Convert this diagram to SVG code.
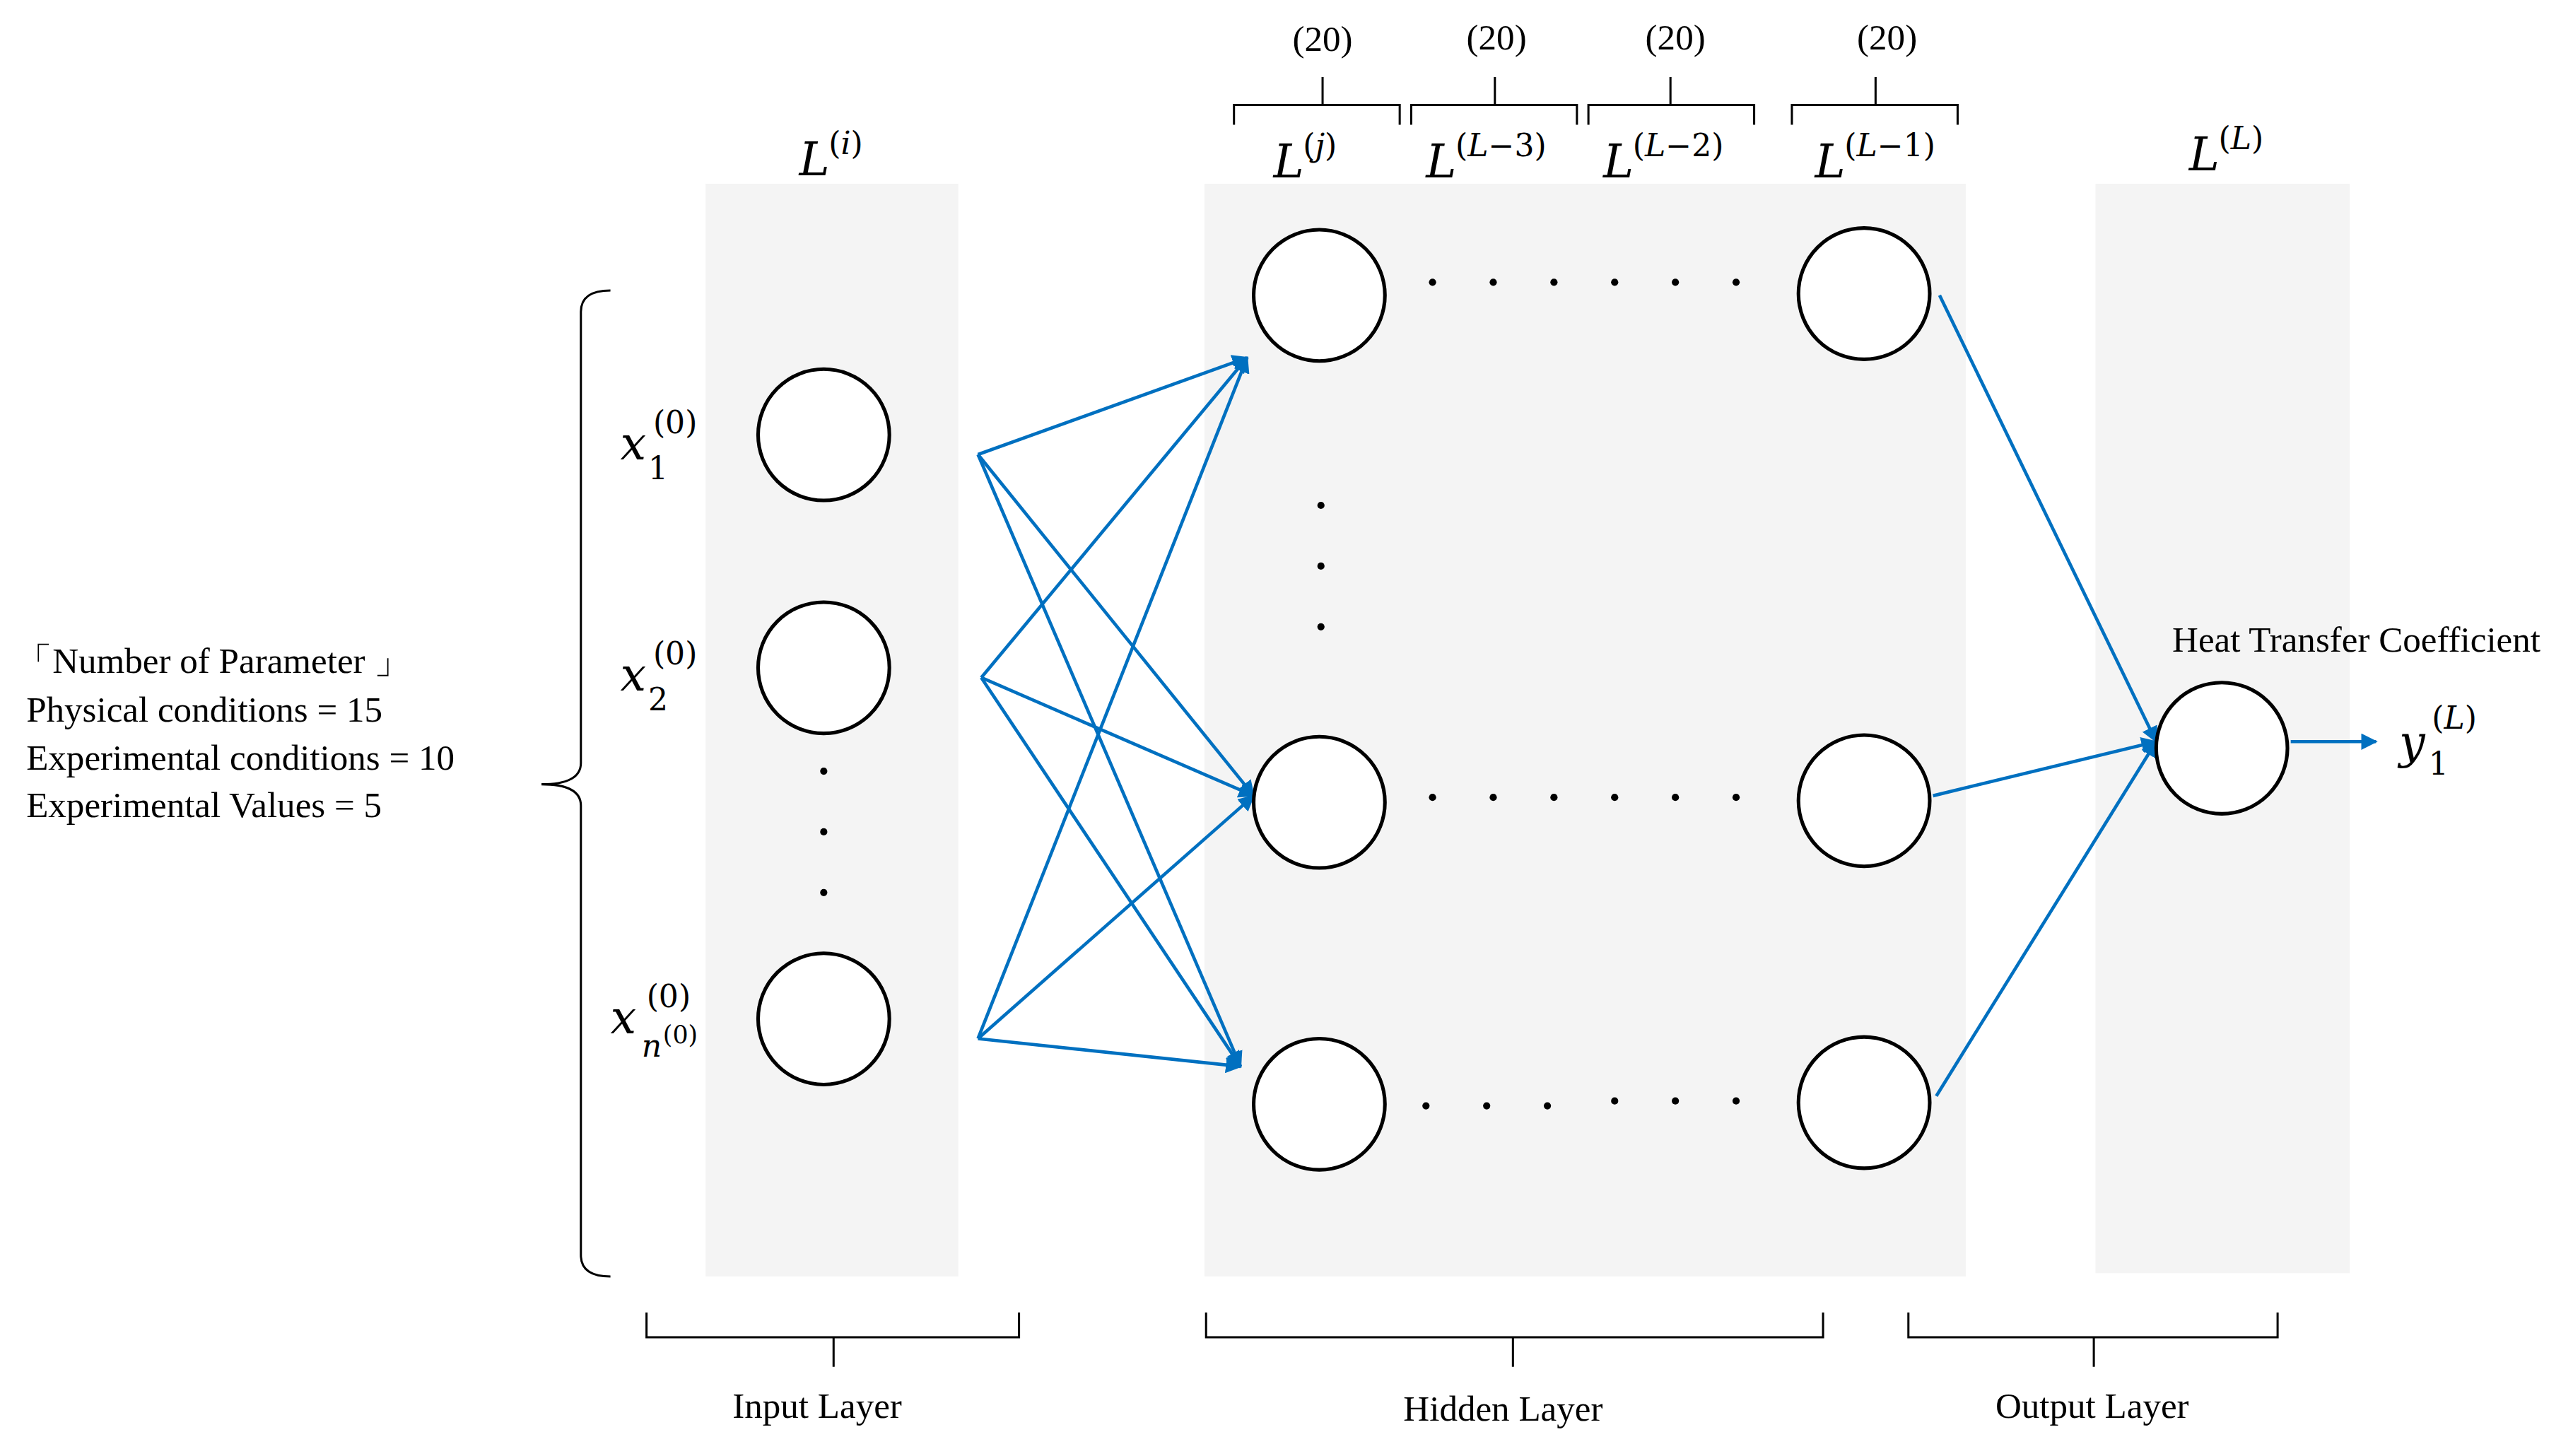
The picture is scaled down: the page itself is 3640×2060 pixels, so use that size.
<svg xmlns="http://www.w3.org/2000/svg" width="3640" height="2060" viewBox="0 0 3640 2060">
<style>
.bg{fill:#f4f4f4}
.n{fill:#fff;stroke:#000;stroke-width:2.2}
.c{stroke:#0070C0;stroke-width:2;fill:none}
.br{fill:none;stroke:#000;stroke-width:1.3}
.t{font-family:"Liberation Serif",serif;font-size:22px;fill:#000}
.m{font-family:"DejaVu Serif",serif;font-style:italic;font-size:28px;fill:#000}
.s{font-family:"DejaVu Serif",serif;font-size:19px;fill:#000}
.si{font-family:"DejaVu Serif",serif;font-style:italic;font-size:19px;fill:#000}
.d{fill:#000}
</style>
<defs>
<marker id="a" viewBox="0 0 10 10" refX="9" refY="5" markerWidth="5" markerHeight="5" orient="auto"><path d="M0,0L10,5L0,10z" fill="#0070C0"/></marker>
</defs>
<rect width="3640" height="2060" fill="#fff"/>
<g transform="scale(2.3214)">
<rect class="bg" x="430" y="112" width="154" height="666"/>
<rect class="bg" x="734" y="112" width="464" height="666"/>
<rect class="bg" x="1277" y="112" width="155" height="664"/>
<g id="connectors" class="c" marker-end="url(#a)">
<path d="M596,277L760,218"/><path d="M596,277L764,485"/><path d="M596,277L756,650"/>
<path d="M598,413L760,218"/><path d="M598,413L764,485"/><path d="M598,413L756,650"/>
<path d="M596,633L760,218"/><path d="M596,633L764,485"/><path d="M596,633L756,650"/>
<path d="M1182,180L1314,452"/><path d="M1178,485L1314,452"/><path d="M1180,668L1314,452"/>
<path d="M1396,452L1448,452"/>
</g>
<g id="in1"><circle class="n" cx="502" cy="265" r="40"/></g>
<g id="in2"><circle class="n" cx="502" cy="407" r="40"/></g>
<g id="in3"><circle class="n" cx="502" cy="621" r="40"/></g>
<g id="h1"><circle class="n" cx="804" cy="180" r="40"/></g>
<g id="h2"><circle class="n" cx="804" cy="489" r="40"/></g>
<g id="h3"><circle class="n" cx="804" cy="673" r="40"/></g>
<g id="h4"><circle class="n" cx="1136" cy="179" r="40"/></g>
<g id="h5"><circle class="n" cx="1136" cy="488" r="40"/></g>
<g id="h6"><circle class="n" cx="1136" cy="672" r="40"/></g>
<g id="out"><circle class="n" cx="1354" cy="456" r="40"/></g>
<g class="d">
<circle cx="873" cy="172" r="2.2"/><circle cx="910" cy="172" r="2.2"/><circle cx="947" cy="172" r="2.2"/><circle cx="984" cy="172" r="2.2"/><circle cx="1021" cy="172" r="2.2"/><circle cx="1058" cy="172" r="2.2"/>
<circle cx="873" cy="486" r="2.2"/><circle cx="910" cy="486" r="2.2"/><circle cx="947" cy="486" r="2.2"/><circle cx="984" cy="486" r="2.2"/><circle cx="1021" cy="486" r="2.2"/><circle cx="1058" cy="486" r="2.2"/>
<circle cx="869" cy="674" r="2.2"/><circle cx="906" cy="674" r="2.2"/><circle cx="943" cy="674" r="2.2"/><circle cx="984" cy="671" r="2.2"/><circle cx="1021" cy="671" r="2.2"/><circle cx="1058" cy="671" r="2.2"/>
<circle cx="805" cy="308" r="2.2"/><circle cx="805" cy="345" r="2.2"/><circle cx="805" cy="382" r="2.2"/>
<circle cx="502" cy="470" r="2.2"/><circle cx="502" cy="507" r="2.2"/><circle cx="502" cy="544" r="2.2"/>
</g>
<path class="br" d="M372,177Q354,177 354,190L354,465Q354,478 330,478Q354,478 354,491L354,765Q354,778 372,778"/>
<path class="br" d="M394,800L394,815L508,815L508,833M508,815L621,815L621,800"/>
<path class="br" d="M735,800L735,815L922,815L922,833M922,815L1111,815L1111,800"/>
<path class="br" d="M1163,800L1163,815L1276,815L1276,833M1276,815L1388,815L1388,800"/>
<path class="br" d="M752,76L752,64L806,64L806,47M806,64L853,64L853,76"/>
<path class="br" d="M860,76L860,64L911,64L911,47M911,64L961,64L961,76"/>
<path class="br" d="M968,76L968,64L1018,64L1018,47M1018,64L1069,64L1069,76"/>
<path class="br" d="M1092,76L1092,64L1143,64L1143,47M1143,64L1193,64L1193,76"/>
<g class="t" text-anchor="middle">
<text x="806" y="31">(20)</text><text x="912" y="30">(20)</text><text x="1021" y="30">(20)</text><text x="1150" y="30">(20)</text>
<text x="498" y="864">Input Layer</text><text x="916" y="866">Hidden Layer</text><text x="1275" y="864">Output Layer</text>
<text x="1436" y="397">Heat Transfer Coefficient</text>
</g>
<g class="t">
<text x="10" y="410">「Number of Parameter 」</text>
<text x="16" y="440">Physical conditions = 15</text>
<text x="16" y="469">Experimental conditions = 10</text>
<text x="16" y="498">Experimental Values = 5</text>
</g>
<g>
<text class="m" x="487" y="107">L</text><text class="s" x="505" y="94">(<tspan class="si">i</tspan>)</text>
<text class="m" x="776" y="108">L</text><text class="s" x="794" y="95">(<tspan class="si">j</tspan>)</text>
<text class="m" x="869" y="108">L</text><text class="s" x="887" y="95">(<tspan class="si">L</tspan>−3)</text>
<text class="m" x="977" y="108">L</text><text class="s" x="995" y="95">(<tspan class="si">L</tspan>−2)</text>
<text class="m" x="1106" y="108">L</text><text class="s" x="1124" y="95">(<tspan class="si">L</tspan>−1)</text>
<text class="m" x="1334" y="104">L</text><text class="s" x="1352" y="91">(<tspan class="si">L</tspan>)</text>
<text class="m" x="378" y="280">x</text><text class="s" x="398" y="264">(0)</text><text class="s" x="395" y="292">1</text>
<text class="m" x="378" y="421">x</text><text class="s" x="398" y="405">(0)</text><text class="s" x="395" y="433">2</text>
<text class="m" x="372" y="630">x</text><text class="s" x="394" y="614">(0)</text><text class="si" x="391" y="644">n</text><text class="s" x="404" y="636" style="font-size:15px">(0)</text>
<text class="m" x="1462" y="462">y</text><text class="s" x="1482" y="444">(<tspan class="si">L</tspan>)</text><text class="s" x="1480" y="472">1</text>
</g>
</g>
</svg>
